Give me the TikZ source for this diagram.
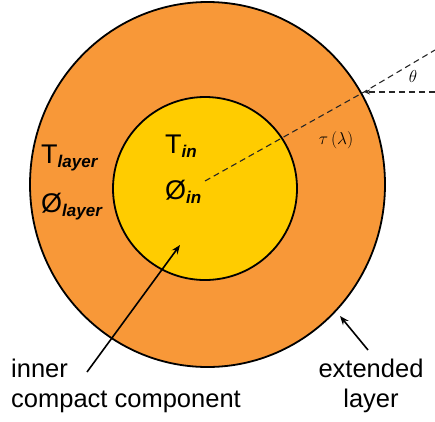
\documentclass[tikz,border=0pt]{standalone}
\usepackage{fontspec}
\setmainfont{Liberation Sans}
\usetikzlibrary{shapes.geometric,arrows.meta}
\definecolor{outerorange}{RGB}{248,152,56}
\definecolor{inneryellow}{RGB}{255,204,0}
\tikzset{
  ring/.style={draw=black, line width=1.8pt},
  dashline/.style={draw=black!85, line width=1.1pt, dash pattern=on 6pt off 4pt},
  pointer/.style={draw=black, line width=1.6pt, -{Stealth[length=9pt,width=7pt]}},
  lbl/.style={font=\fontsize{25.5}{30}\selectfont, inner sep=0pt},
  sym/.style={inner sep=0pt, anchor=base west},
}
\newcommand{\bigsym}[2]{{\fontsize{27}{27}\selectfont #1}\raisebox{-4pt}{\fontsize{17}{17}\selectfont\bfseries\itshape #2}}
\begin{document}
\begin{tikzpicture}[x=1pt,y=-1pt]
\useasboundingbox (0,0) rectangle (435,421);
\node[ring, ellipse, fill=outerorange, minimum width=355pt, minimum height=365pt, inner sep=0pt] (outer) at (207.5,184.5) {};
\node[ring, ellipse, fill=inneryellow, minimum width=184pt, minimum height=183pt, inner sep=0pt] (inner) at (205,188.5) {};
\coordinate (c0) at (205,181);
\coordinate (hit) at (364,92);
\coordinate (rayend) at (435,50);
\coordinate (hstart) at (435,92);
\draw[dashline] (c0) -- (hit) -- (rayend);
\draw[dashline, -{Stealth[length=6pt,width=5pt]}] (hstart) -- (hit);
\node[font=\fontsize{19}{19}\selectfont] (theta) at (413,76) {$\theta$};
\node[font=\fontsize{19}{19}\selectfont] (tau) at (336,140) {$\tau\,(\lambda)$};
\node[sym] (Tl) at (41,163) {\bigsym{T}{layer}};
\node[sym] (Pl) at (41,212) {\bigsym{Ø}{layer}};
\node[sym] (Ti) at (165,153) {\bigsym{T}{in}};
\node[sym] (Pi) at (165,199) {\bigsym{Ø}{in}};
\node[lbl, anchor=base west, align=left] (innerlbl) at (11,407) {inner\\compact component};
\node[lbl, anchor=base, align=center] (extlbl) at (371,407) {extended\\layer};
\coordinate (a1s) at (87,372);
\coordinate (a1e) at (180,245);
\coordinate (a2s) at (368,350);
\coordinate (a2e) at (340,316);
\draw[pointer] (a1s) -- (a1e);
\draw[pointer] (a2s) -- (a2e);
\end{tikzpicture}
\end{document}
